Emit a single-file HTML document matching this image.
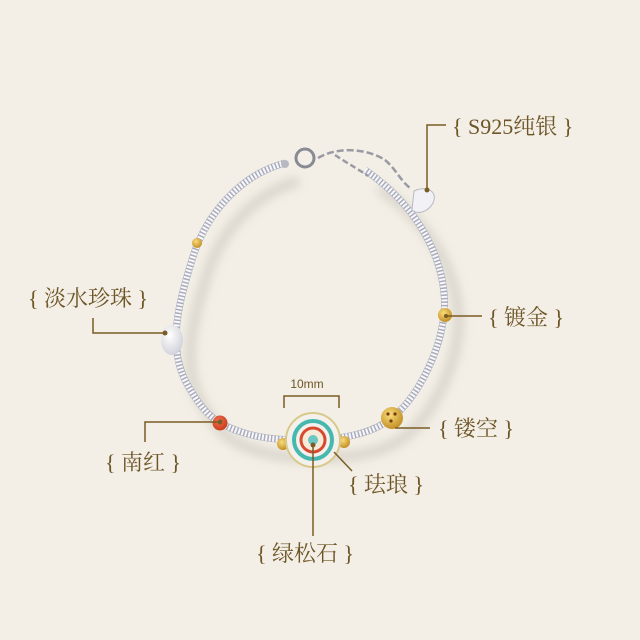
<!DOCTYPE html>
<html><head><meta charset="utf-8"><style>
html,body{margin:0;padding:0;background:#f3efe6;}
svg{display:block}
text{font-family:"Liberation Serif","Noto Serif CJK SC",serif;fill:#6e5526;}
</style></head><body>
<svg width="640" height="640" viewBox="0 0 640 640" xmlns="http://www.w3.org/2000/svg">
<defs>
<filter id="b" x="-20%" y="-20%" width="140%" height="140%"><feGaussianBlur stdDeviation="5"/></filter>
<radialGradient id="pearl" cx="40%" cy="35%" r="70%"><stop offset="0" stop-color="#ffffff"/><stop offset="1" stop-color="#cfcfd8"/></radialGradient>
<radialGradient id="gold" cx="40%" cy="35%" r="70%"><stop offset="0" stop-color="#f8dc7a"/><stop offset="1" stop-color="#c08a20"/></radialGradient>
<radialGradient id="red" cx="40%" cy="35%" r="70%"><stop offset="0" stop-color="#f07050"/><stop offset="1" stop-color="#c83818"/></radialGradient>
</defs>
<rect width="640" height="640" fill="#f3efe6"/>
<!-- shadow -->
<path transform="translate(14,18)" d="M285,163 C240,175 205,215 192,260 C178,305 168,345 185,380 C198,405 210,418 222,424 C245,436 270,440 300,440 C340,440 370,435 392,418 C420,395 440,350 444,315 C448,275 430,215 365,170" fill="none" stroke="#d6d1c8" stroke-width="10" filter="url(#b)" opacity="0.9"/>
<!-- bracelet strand -->
<path d="M285,163 C240,175 205,215 192,260 C178,305 168,345 185,380 C198,405 210,418 222,424 C245,436 270,440 300,440 C340,440 370,435 392,418 C420,395 440,350 444,315 C448,275 430,215 365,170" fill="none" stroke="#a9abbb" stroke-width="7"/>
<path d="M285,163 C240,175 205,215 192,260 C178,305 168,345 185,380 C198,405 210,418 222,424 C245,436 270,440 300,440 C340,440 370,435 392,418 C420,395 440,350 444,315 C448,275 430,215 365,170" fill="none" stroke="#f8f8fb" stroke-width="6" stroke-dasharray="2 1.5"/>
<!-- clasp & chain -->
<circle cx="305" cy="158" r="9" fill="none" stroke="#8a8a94" stroke-width="3"/>
<circle cx="285" cy="164" r="4" fill="#b8b8c2"/>
<path d="M318,158 C340,145 370,150 385,160 C395,168 400,180 410,188" fill="none" stroke="#9a9aa4" stroke-width="2.5" stroke-dasharray="7 3"/>
<path d="M335,155 C350,165 360,170 368,176" fill="none" stroke="#9a9aa4" stroke-width="2.5" stroke-dasharray="6 3"/>
<path d="M414,191 C428,185 438,192 433,203 C428,212 418,215 412,210 Z" fill="#f2f2f6" stroke="#b8b8c2"/>
<!-- beads -->
<circle cx="197" cy="243" r="5" fill="url(#gold)"/>
<ellipse cx="172" cy="340" rx="11" ry="15" fill="url(#pearl)"/>
<circle cx="220" cy="423" r="7.5" fill="url(#red)"/>
<circle cx="283" cy="444" r="6" fill="url(#gold)"/>
<circle cx="344" cy="442" r="6" fill="url(#gold)"/>
<circle cx="445" cy="315" r="7" fill="url(#gold)"/>
<circle cx="392" cy="418" r="11" fill="url(#gold)"/>
<circle cx="388" cy="414" r="1.6" fill="#7a3a10"/><circle cx="395" cy="414" r="1.6" fill="#7a3a10"/><circle cx="391" cy="421" r="1.6" fill="#7a3a10"/>
<!-- enamel bead -->
<circle cx="313" cy="440" r="27" fill="#f4f1ec" stroke="#d8c98a" stroke-width="2"/>
<circle cx="313" cy="440" r="19" fill="none" stroke="#46b8b0" stroke-width="4"/>
<circle cx="313" cy="440" r="12" fill="#f6ead8" stroke="#d84a30" stroke-width="3"/>
<circle cx="313" cy="440" r="5" fill="#6cc6c2"/>
<!-- 10mm -->
<text x="307" y="388" font-size="12" text-anchor="middle" style="font-family:'Liberation Sans',sans-serif">10mm</text>
<path d="M284,408 V396 H339 V408" fill="none" stroke="#7a5c25" stroke-width="1.5"/>
<!-- leader lines -->
<g fill="none" stroke="#7a5c25" stroke-width="1.5">
<path d="M446,125 H427 V190"/>
<path d="M93,318 V333 H165"/>
<path d="M446,316 H482"/>
<path d="M395,428 H430"/>
<path d="M145,442 V422 H220"/>
<path d="M334,452 L352,471"/>
<path d="M313,445 V536"/>
</g>
<g fill="#7a5c25"><circle cx="427" cy="190" r="2.5"/><circle cx="165" cy="333" r="2.5"/><circle cx="220" cy="422" r="2.5"/><circle cx="313" cy="445" r="2.5"/><circle cx="446" cy="316" r="2"/></g>
<!-- labels -->
<text x="452" y="134" font-size="22">{ S925纯银 }</text>
<text x="28" y="306" font-size="22">{ 淡水珍珠 }</text>
<text x="488" y="325" font-size="22">{ 镀金 }</text>
<text x="438" y="436" font-size="22">{ 镂空 }</text>
<text x="105" y="470" font-size="22">{ 南红 }</text>
<text x="348" y="492" font-size="22">{ 珐琅 }</text>
<text x="256" y="561" font-size="22">{ 绿松石 }</text>
</svg>
</body></html>
